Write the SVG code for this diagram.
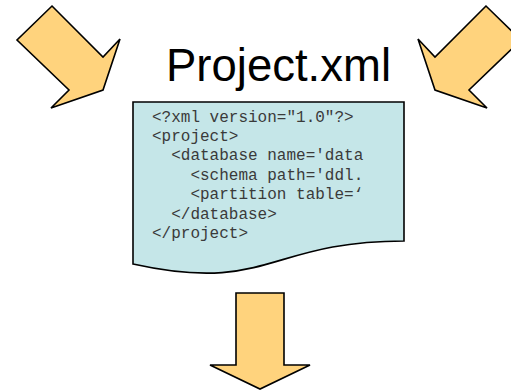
<svg xmlns="http://www.w3.org/2000/svg" width="511" height="390" viewBox="0 0 511 390">
<style>
.arrow{fill:#FFD37D;stroke:#000;stroke-width:1.6;stroke-linejoin:miter}
.doc{fill:#C5E6E8;stroke:#000;stroke-width:1.6}
.code{font-family:"Liberation Mono","Courier New",monospace;font-size:16px;fill:#3a3a3a}
.title{font-family:"Liberation Sans",Arial,sans-serif;font-size:45.5px;fill:#000}
</style>
<defs>
<clipPath id="docClip"><path d="M133,102 H404 V241 C268.5,241 268.5,294 133,264 Z"/></clipPath>
</defs>
<rect width="511" height="390" fill="#fff"/>
<g id="arrow-left"><polygon class="arrow" points="52,6 103,57 120,39 103,90 51,108 69,90 17,40"/></g>
<g id="arrow-right"><polygon class="arrow" points="486,6 435,57 418,39 435,90 487,108 469,90 521,40"/></g>
<g id="title"><text class="title" x="166" y="81">Project.xml</text></g>
<g id="document">
<path class="doc" d="M133,102 H404 V241 C268.5,241 268.5,294 133,264 Z"/>
<g clip-path="url(#docClip)" class="code">
<text x="152" y="121.5" xml:space="preserve">&lt;?xml version="1.0"?&gt;</text>
<text x="152" y="140.9" xml:space="preserve">&lt;project&gt;</text>
<text x="152" y="160.3" xml:space="preserve">  &lt;database name='data</text>
<text x="152" y="179.7" xml:space="preserve">    &lt;schema path='ddl.</text>
<text x="152" y="199.1" xml:space="preserve">    &lt;partition table=‘</text>
<text x="152" y="218.5" xml:space="preserve">  &lt;/database&gt;</text>
<text x="152" y="237.9" xml:space="preserve">&lt;/project&gt;</text>
</g>
</g>
<g id="arrow-down"><polygon class="arrow" points="236,293 284,293 284,365 310,365 260,389 210,365 236,365"/></g>
</svg>
